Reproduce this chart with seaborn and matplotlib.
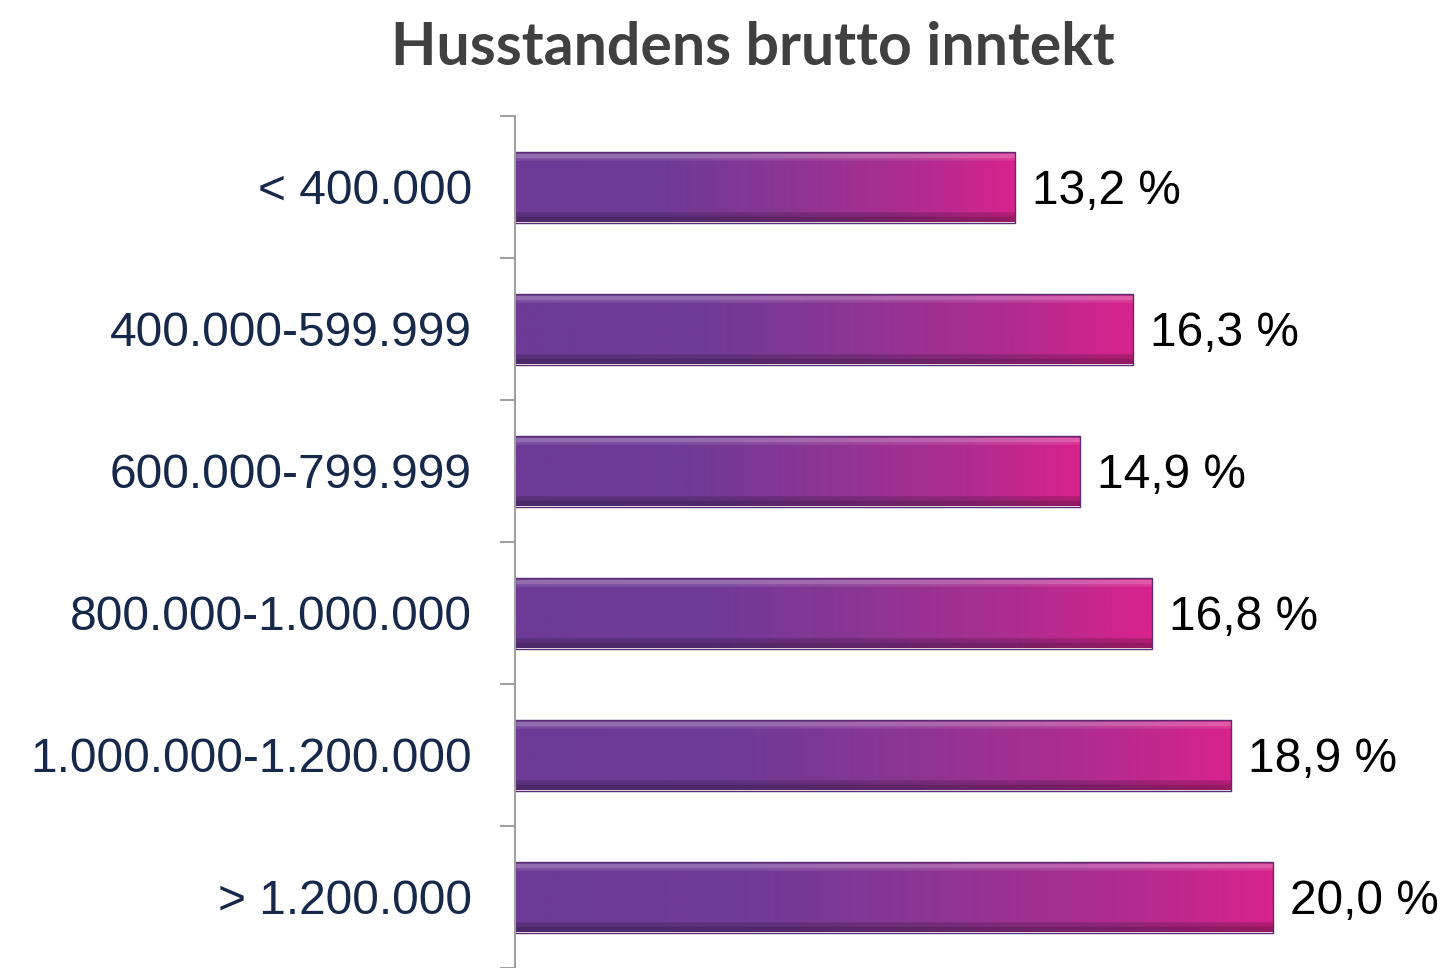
import numpy as np
import pandas as pd
import matplotlib
matplotlib.use("Agg")
import matplotlib.pyplot as plt
import seaborn as sns
from matplotlib.colors import LinearSegmentedColormap

categories = ["< 400.000", "400.000-599.999", "600.000-799.999",
              "800.000-1.000.000", "1.000.000-1.200.000", "> 1.200.000"]
values = [13.2, 16.3, 14.9, 16.8, 18.9, 20.0]
value_labels = ["13,2 %", "16,3 %", "14,9 %", "16,8 %", "18,9 %", "20,0 %"]
title = "Husstandens brutto inntekt"

sns.set_style("white")
plt.rcParams['font.family'] = ['Liberation Sans', 'DejaVu Sans']

W, H = 1450, 968
PX = 37.9  # pixels per percent
fig = plt.figure(figsize=(W / 100, H / 100), dpi=100)
ax = fig.add_axes([515 / W, 0, 1 - 515 / W, 1 - 116 / H])

df = pd.DataFrame({"cat": categories, "val": values})
sns.barplot(data=df, y="cat", x="val", orient="h", width=0.5, ax=ax,
            color="#6E3B97", saturation=1)

cmap = LinearSegmentedColormap.from_list(
    "g", [(0.0, "#6C3B96"), (0.3, "#6F3B97"), (0.55, "#8C3594"),
          (0.8, "#B02C90"), (1.0, "#D8238C")])

nx, ny = 512, 80
xs = np.linspace(0, 1, nx)
base = cmap(xs)[:, :3]
ys = np.linspace(0, 1, ny)
img = np.zeros((ny, nx, 3))
for i, t in enumerate(ys):
    row = base.copy()
    if t < 0.03:
        row = row * 0.85
    elif t < 0.09:
        row = row + (1 - row) * 0.25
    elif t < 0.13:
        row = row + (1 - row) * 0.1
    elif t > 0.93:
        row = row * 0.7
    elif t > 0.87:
        row = row * 0.82
    img[i] = row

for p in list(ax.patches):
    x0, y0 = p.get_x(), p.get_y()
    w, h = p.get_width(), p.get_height()
    p.set_facecolor("none")
    p.set_edgecolor("#5B2B74")
    p.set_linewidth(1.0)
    im = ax.imshow(img, extent=[x0, x0 + w, y0 + h, y0], aspect="auto",
                   origin="upper", zorder=p.get_zorder() - 0.1, interpolation="bilinear")
    im.set_clip_path(p)

ax.set_xlim(0, (W - 515) / PX)
ax.set_ylim(-0.5 + 852 / 143, -0.5)

for i, (v, lab) in enumerate(zip(values, value_labels)):
    ax.text(v + 17 / PX, i + 0.03, lab, va="center", ha="left", fontsize=34.5, color="black")

ax.set_xlabel("")
ax.set_ylabel("")
ax.set_xticks([])
for s in ["top", "right", "bottom"]:
    ax.spines[s].set_visible(False)
ax.spines["left"].set_color("#A0A0A0")
ax.spines["left"].set_linewidth(1.5)

ax.set_yticks(range(len(categories)))
ax.set_yticklabels(categories, fontsize=34.5, color="#17294A")
ax.tick_params(axis="y", which="major", length=0, pad=31)
ax.set_yticks(np.arange(-0.5, 6, 1.0), minor=True)
ax.tick_params(axis="y", which="minor", length=10.8, width=1.5, color="#A0A0A0", left=True)

fig.text(753 / W, 1 - 48 / H, title, ha="center", va="center", fontsize=42.5,
         fontweight="bold", color="#404040", family=["Lato", "DejaVu Sans"])

fig.savefig("out.png", dpi=100)
